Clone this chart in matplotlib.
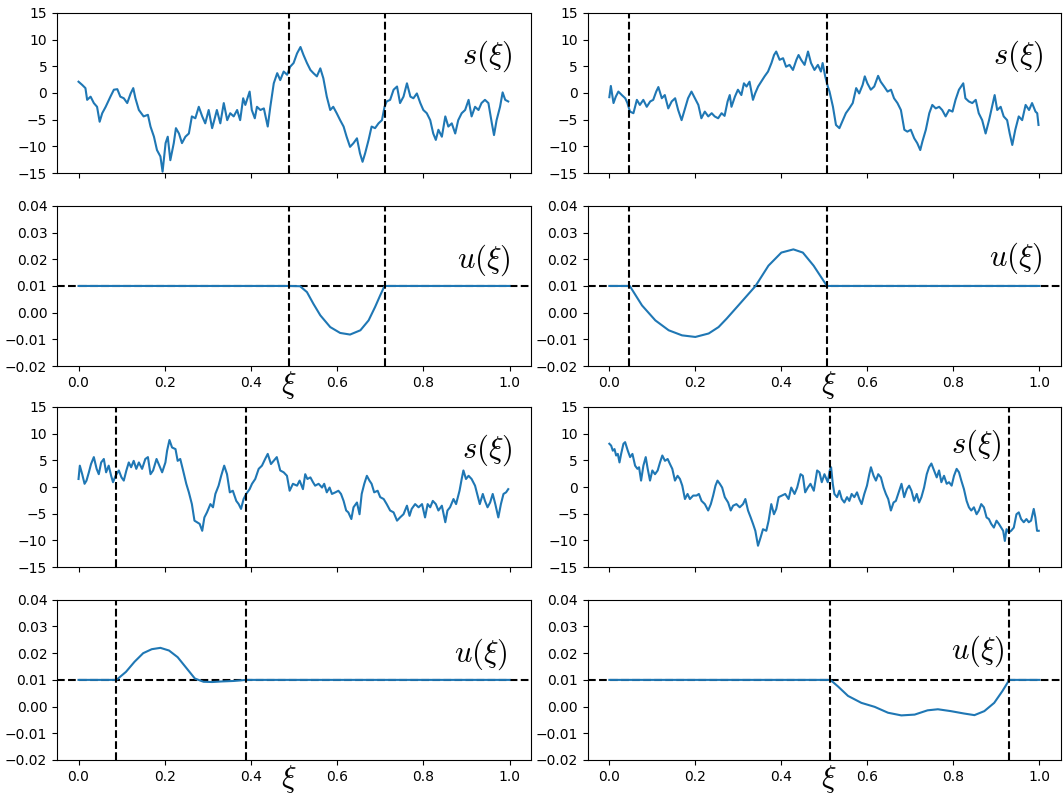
import matplotlib
matplotlib.use("Agg")
import matplotlib.pyplot as plt

plt.rcParams["mathtext.fontset"] = "cm"

# ---------------- data ----------------
# s(xi) signals: (xi, value) pairs
s_top_left = [
    (0.0, 2.1), (0.0085, 1.5), (0.016, 0.9), (0.020, -1.3), (0.028, -0.7), (0.0355, -1.9),
    (0.043, -2.6), (0.049, -5.4), (0.055, -3.8), (0.063, -2.6), (0.074, -0.7), (0.082, 0.6),
    (0.090, 0.7), (0.097, -0.7), (0.105, -1.0), (0.113, -1.9), (0.121, -0.1), (0.127, 0.9),
    (0.132, -1.0), (0.140, -3.2), (0.151, -4.4), (0.161, -4.1), (0.167, -6.3), (0.175, -8.2),
    (0.182, -10.7), (0.190, -11.9), (0.195, -14.75), (0.202, -9.4), (0.207, -8.2), (0.213, -12.6),
    (0.221, -9.4), (0.226, -6.6), (0.233, -7.6), (0.240, -9.4), (0.248, -8.2), (0.256, -7.6),
    (0.263, -4.4), (0.271, -4.75), (0.279, -2.6), (0.287, -4.4), (0.294, -5.7), (0.302, -3.2),
    (0.310, -6.6), (0.315, -5.1), (0.321, -3.2), (0.329, -5.7), (0.337, -1.9), (0.345, -5.1),
    (0.352, -3.8), (0.360, -4.4), (0.368, -3.2), (0.375, -5.1), (0.382, -1.0), (0.387, -2.25),
    (0.397, 0.25), (0.402, -3.2), (0.409, -4.75), (0.414, -2.6), (0.422, -3.2), (0.430, -2.9),
    (0.439, -6.3), (0.445, -2.6), (0.453, 1.8), (0.461, 3.7), (0.468, 2.4), (0.476, 4.0),
    (0.484, 3.4), (0.491, 4.9), (0.499, 5.6), (0.507, 7.4),
    (0.515, 8.6), (0.522, 7.1), (0.530, 5.6), (0.538, 4.3), (0.545, 3.7), (0.553, 3.1),
    (0.561, 4.6), (0.568, 2.75), (0.576, -0.7), (0.584, -3.2), (0.591, -2.6), (0.599, -3.8),
    (0.607, -5.1), (0.615, -6.3), (0.622, -8.2), (0.630, -10.1), (0.638, -9.4), (0.646, -8.5),
    (0.653, -11.3), (0.659, -12.9), (0.665, -11.3), (0.673, -8.8), (0.680, -6.3), (0.688, -6.6),
    (0.696, -5.7), (0.704, -5.1), (0.710, -2.6), (0.715, -1.6), (0.723, -1.3), (0.731, 0.6),
    (0.739, 1.2), (0.746, -1.9), (0.754, -0.7), (0.762, 1.8), (0.770, -0.7), (0.777, -1.0),
    (0.785, -0.1), (0.793, -1.9), (0.800, -3.2), (0.808, -3.8), (0.816, -5.1), (0.823, -7.6),
    (0.829, -8.8), (0.835, -6.9), (0.843, -8.2), (0.851, -4.4), (0.858, -6.3), (0.866, -5.7),
    (0.874, -7.6), (0.881, -5.1), (0.889, -3.8), (0.897, -3.2), (0.905, -1.3), (0.912, -4.4),
    (0.920, -2.6), (0.928, -3.2), (0.935, -1.9), (0.943, -1.3), (0.951, -1.9), (0.959, -5.7),
    (0.964, -7.9), (0.970, -5.1), (0.978, -2.6), (0.984, 0.1), (0.990, -1.3), (0.997, -1.6),
]

s_top_right = [
    (0.0, -0.8), (0.0035, 1.3), (0.0097, -1.9), (0.015, -0.7), (0.021, 0.25), (0.029, -0.4),
    (0.037, -1.0), (0.042, -1.9), (0.048, -3.5), (0.056, -3.8), (0.064, -1.3), (0.071, -2.25),
    (0.079, -1.3), (0.087, -2.6), (0.095, -1.6), (0.102, -1.3), (0.109, 0.25), (0.114, 1.1),
    (0.122, -1.0), (0.129, -0.4), (0.137, -2.9), (0.145, -1.6), (0.153, -1.0), (0.160, -3.2),
    (0.168, -5.1), (0.176, -2.9), (0.183, -1.0), (0.191, 0.25), (0.199, -1.0), (0.207, -2.25),
    (0.214, -4.75), (0.222, -3.5), (0.230, -4.4), (0.238, -3.8), (0.245, -4.4), (0.253, -4.75),
    (0.261, -3.8), (0.268, -4.3), (0.275, -1.6), (0.280, -0.4), (0.284, -2.6), (0.292, -0.7),
    (0.299, 0.6), (0.307, -0.4), (0.313, 1.8), (0.319, 1.2), (0.326, 2.1), (0.334, -1.3),
    (0.339, -0.1), (0.346, 1.2), (0.353, 2.1), (0.361, 3.1), (0.369, 4.0), (0.377, 5.6),
    (0.383, 7.1), (0.388, 7.75), (0.396, 6.2), (0.404, 6.5), (0.411, 4.9), (0.419, 5.25),
    (0.427, 4.3), (0.435, 6.2), (0.440, 7.1), (0.446, 6.2), (0.454, 5.25), (0.462, 7.75),
    (0.469, 5.6), (0.477, 4.3), (0.485, 5.25), (0.492, 4.0), (0.496, 5.6), (0.502, 3.1),
    (0.508, 1.2),
    (0.512, 0.25), (0.520, -2.6), (0.527, -6.0), (0.535, -6.6), (0.543, -5.1), (0.550, -3.8),
    (0.558, -2.9), (0.566, -1.9), (0.574, 0.9), (0.581, -0.1), (0.589, 1.5), (0.594, 3.1),
    (0.600, 1.8), (0.608, 0.6), (0.616, 1.2), (0.625, 3.2), (0.631, 2.1), (0.639, 1.2),
    (0.647, 0.25), (0.655, 0.6), (0.662, -1.0), (0.670, -1.9), (0.678, -3.2), (0.686, -6.9),
    (0.693, -7.25), (0.701, -6.9), (0.709, -8.5), (0.716, -9.4), (0.723, -10.7), (0.728, -9.1),
    (0.736, -6.9), (0.744, -3.8), (0.751, -2.25), (0.759, -2.9), (0.767, -2.6), (0.774, -3.2),
    (0.782, -4.4), (0.790, -3.2), (0.798, -3.5), (0.805, -1.3), (0.813, 0.6), (0.823, 1.8),
    (0.828, -1.0), (0.836, -1.6), (0.844, -1.9), (0.852, -1.3), (0.859, -3.8), (0.867, -5.1),
    (0.875, -7.6), (0.883, -5.1), (0.890, -2.6), (0.896, -0.4), (0.902, -3.2), (0.910, -2.6),
    (0.917, -4.4), (0.925, -5.1), (0.931, -7.6), (0.937, -9.75), (0.944, -6.9), (0.952, -4.4),
    (0.960, -5.1), (0.968, -2.25), (0.976, -3.2), (0.983, -1.9), (0.991, -3.5), (0.995, -3.8),
    (0.998, -6.0),
]

s_bottom_left = [
    (0.0, 1.5), (0.003, 4.0), (0.0085, 2.4), (0.014, 0.6), (0.0185, 1.2), (0.024, 2.75),
    (0.029, 4.3), (0.0355, 5.6), (0.042, 3.4), (0.047, 2.4), (0.0525, 4.6), (0.0587, 5.25),
    (0.064, 2.75), (0.070, 4.0), (0.0757, 2.1), (0.080, 0.9), (0.086, 2.1), (0.0935, 3.1),
    (0.0997, 1.8), (0.105, 1.2), (0.111, 3.1), (0.1166, 4.6), (0.122, 3.7), (0.128, 4.9),
    (0.134, 3.4), (0.140, 4.6), (0.1475, 3.4), (0.155, 5.25), (0.161, 5.6), (0.167, 2.4),
    (0.173, 3.1), (0.181, 5.25), (0.186, 4.3), (0.194, 2.75), (0.2016, 4.6), (0.2055, 6.8),
    (0.211, 8.8), (0.217, 7.4), (0.225, 7.1), (0.230, 4.9), (0.236, 5.25), (0.2426, 3.1),
    (0.250, 0.6), (0.256, -1.0), (0.263, -3.2), (0.269, -6.3), (0.275, -6.6), (0.281, -6.9),
    (0.287, -8.2), (0.292, -5.7), (0.298, -4.75), (0.306, -3.2), (0.312, -3.8), (0.3175, -1.3),
    (0.325, 0.25), (0.331, 2.1), (0.338, 4.0), (0.3445, 2.4), (0.351, -1.0), (0.358, -0.7),
    (0.366, -2.6), (0.3716, -3.2), (0.377, -4.1), (0.383, -2.25), (0.389, -1.3), (0.397, -0.4),
    (0.4025, 0.6), (0.410, 1.5), (0.418, 3.4), (0.4256, 4.0), (0.433, 5.25), (0.439, 6.2),
    (0.4465, 4.3), (0.4527, 4.9), (0.460, 5.6), (0.468, 3.1), (0.476, 2.75), (0.4836, 2.1),
    (0.4898, -0.7), (0.4975, 0.6), (0.507, 0.25), (0.513, 1.2),
    (0.5145, 0.9), (0.5207, -0.4), (0.526, 2.4), (0.531, 1.5), (0.538, 1.8), (0.544, 0.9),
    (0.549, 0.25), (0.557, 0.6), (0.565, -0.1), (0.570, 0.6), (0.576, -1.0), (0.5825, -0.1),
    (0.588, -1.3), (0.596, -1.0), (0.603, -0.7), (0.609, -1.3), (0.615, -2.6), (0.621, -4.4),
    (0.626, -4.75), (0.633, -6.0), (0.638, -3.8), (0.646, -2.9), (0.652, -5.1), (0.657, -1.3),
    (0.663, 0.6), (0.669, 2.1), (0.675, 1.2), (0.680, 0.6), (0.686, -1.0), (0.694, -0.7),
    (0.700, -1.9), (0.708, -2.25), (0.715, -3.2), (0.723, -4.4), (0.731, -4.75), (0.739, -6.3),
    (0.746, -5.7), (0.754, -5.1), (0.762, -3.5), (0.768, -5.4), (0.773, -4.1), (0.781, -3.2),
    (0.789, -3.8), (0.797, -3.2), (0.804, -5.7), (0.810, -3.2), (0.816, -3.8), (0.822, -2.6),
    (0.829, -3.2), (0.835, -4.4), (0.843, -3.5), (0.851, -6.6), (0.856, -4.4), (0.862, -3.8),
    (0.870, -2.25), (0.876, -3.2), (0.884, -0.7), (0.889, 1.5), (0.893, 3.1), (0.899, 1.5),
    (0.905, 2.1), (0.912, 1.5), (0.920, 0.25), (0.925, -1.3), (0.931, -3.2), (0.938, -1.3),
    (0.943, -2.6), (0.949, -3.8), (0.955, -2.9), (0.961, -1.3), (0.967, -3.2), (0.974, -5.7),
    (0.980, -3.2), (0.986, -1.3), (0.992, -1.0), (0.997, -0.4),
]

s_bottom_right = [
    (0.0, 8.1), (0.0042, 7.75), (0.0081, 6.8), (0.012, 7.1), (0.0158, 5.9), (0.0197, 6.2),
    (0.0236, 4.6), (0.0274, 6.2), (0.0328, 8.1), (0.0367, 8.4), (0.0429, 6.8), (0.0483, 5.6),
    (0.0537, 6.2), (0.0599, 4.0), (0.0653, 3.4), (0.0691, 3.7), (0.0738, 1.2), (0.0792, 4.0),
    (0.0846, 5.6), (0.0892, 3.4), (0.0946, 1.2), (0.100, 3.1), (0.1062, 2.4), (0.1124, 3.1),
    (0.1178, 4.6), (0.1232, 5.9), (0.1294, 4.9), (0.1356, 5.25), (0.141, 4.3), (0.1464, 3.4),
    (0.1526, 1.2), (0.1587, 2.1), (0.1642, 1.5), (0.1696, 0.25), (0.1758, -2.25), (0.1819, -1.3),
    (0.1873, -2.25), (0.195, -1.6), (0.2028, -1.6), (0.2082, -1.3), (0.2144, -2.6), (0.2221, -3.2),
    (0.2298, -4.4), (0.236, -3.2), (0.2414, -1.6), (0.2468, 0.25), (0.2515, 1.2), (0.2569, 0.6),
    (0.2623, -0.1), (0.2685, -1.9), (0.2762, -2.9), (0.2823, -4.4), (0.2878, -3.5), (0.2955, -3.2),
    (0.3032, -3.8), (0.3109, -3.2), (0.3163, -2.25), (0.3225, -4.4), (0.3287, -5.7), (0.3341, -6.9),
    (0.3395, -8.2), (0.3457, -11.0), (0.3519, -9.4), (0.3573, -7.9), (0.365, -8.2), (0.3704, -6.3),
    (0.3766, -3.2), (0.3828, -5.1), (0.3882, -4.1), (0.3936, -1.9), (0.4013, -1.6), (0.409, -1.3),
    (0.4168, -2.25), (0.423, -0.1), (0.4307, -1.3), (0.4368, -0.1), (0.4446, 2.4), (0.450, 2.1),
    (0.4554, -1.0), (0.4616, -0.1), (0.4677, 0.6), (0.4755, -0.7), (0.4832, 3.1), (0.4886, 2.75),
    (0.494, 0.9), (0.5002, 2.4), (0.5079, 0.9), (0.5126, 3.1),
    (0.5157, 3.7), (0.5196, 0.6), (0.5234, -1.3), (0.5296, -1.9), (0.535, -0.7), (0.5405, -2.25),
    (0.5465, -2.9), (0.5527, -1.9), (0.5581, -2.6), (0.5635, -1.3), (0.5697, -1.9), (0.5759, -1.0),
    (0.5813, -2.25), (0.5867, -3.2), (0.5929, -1.3), (0.5991, 0.25), (0.6045, 2.4), (0.6083, 3.7),
    (0.6145, 2.1), (0.6199, 1.2), (0.6253, 2.4), (0.6315, 1.8), (0.6377, -0.1), (0.6431, -1.3),
    (0.6485, -2.25), (0.6547, -4.4), (0.6609, -2.9), (0.6663, -2.6), (0.674, -0.7), (0.6794, 0.6),
    (0.6856, -1.9), (0.6918, -0.4), (0.6972, 0.25), (0.7026, -0.7), (0.7087, -2.6), (0.7149, -1.3),
    (0.7203, -2.9), (0.7257, -1.9), (0.7319, -0.1), (0.7381, 2.4), (0.7435, 3.7), (0.7489, 4.4),
    (0.7551, 3.1), (0.7613, 1.8), (0.7667, 3.1), (0.7721, 0.9), (0.7783, 2.1), (0.7845, 0.6),
    (0.7899, 0.9), (0.796, 0.25), (0.8015, 2.1), (0.8076, 3.4), (0.8131, 2.75), (0.8185, 1.2),
    (0.8246, -0.4), (0.8308, -2.6), (0.8362, -3.8), (0.8416, -4.4), (0.8478, -3.8), (0.854, -5.1),
    (0.8594, -4.4), (0.8648, -3.2), (0.871, -3.8), (0.8772, -5.7), (0.8826, -6.0), (0.888, -6.9),
    (0.8942, -7.6), (0.9004, -6.3), (0.9058, -6.9), (0.9112, -7.6), (0.9158, -8.2), (0.9197, -10.1),
    (0.9236, -7.9), (0.9289, -8.5), (0.9343, -8.2), (0.9405, -7.6), (0.9467, -5.1), (0.9521, -4.75),
    (0.9575, -6.0), (0.9637, -6.6), (0.9699, -6.0), (0.9753, -6.6), (0.9807, -6.3), (0.9869, -4.1),
    (0.9907, -5.7), (0.9946, -8.2), (0.9985, -8.2),
]

# u(xi) controls: (xi, value) pairs
u_top_left = [
    (0.0, 0.01), (0.490, 0.01), (0.514, 0.0099), (0.530, 0.0077), (0.545, 0.0033),
    (0.561, -0.0010), (0.584, -0.0054), (0.607, -0.0076), (0.630, -0.0082), (0.654, -0.0066),
    (0.673, -0.0029), (0.688, 0.0021), (0.700, 0.0065), (0.710, 0.01), (1.0, 0.01),
]
u_top_right = [
    (0.0, 0.01), (0.0475, 0.01), (0.076, 0.0027), (0.107, -0.0029), (0.138, -0.0066),
    (0.169, -0.0085), (0.200, -0.0091), (0.231, -0.0078), (0.254, -0.0054), (0.273, -0.0022),
    (0.300, 0.0027), (0.340, 0.01), (0.370, 0.0176), (0.400, 0.0225), (0.428, 0.0237),
    (0.450, 0.0225), (0.475, 0.0176), (0.506, 0.01), (1.0, 0.01),
]
u_bottom_left = [
    (0.0, 0.01), (0.088, 0.01), (0.11, 0.0130), (0.13, 0.0168), (0.15, 0.0200), (0.17, 0.0215),
    (0.19, 0.0220), (0.21, 0.0210), (0.23, 0.0185), (0.25, 0.0145), (0.27, 0.0105),
    (0.29, 0.0093), (0.31, 0.0092), (0.33, 0.0094), (0.36, 0.0096), (0.389, 0.01), (1.0, 0.01),
]
u_bottom_right = [
    (0.0, 0.01), (0.514, 0.01), (0.532, 0.0075), (0.555, 0.0040), (0.586, 0.0014),
    (0.617, -0.0001), (0.648, -0.0023), (0.679, -0.0033), (0.710, -0.0030), (0.740, -0.0014),
    (0.764, -0.0010), (0.794, -0.0017), (0.825, -0.0026), (0.849, -0.0032), (0.872, -0.0017),
    (0.895, 0.0014), (0.914, 0.0058), (0.930, 0.01), (1.0, 0.01),
]

# interval boundaries (vertical dashed lines)
bounds_top_left = [0.489, 0.710]
bounds_top_right = [0.046, 0.506]
bounds_bottom_left = [0.088, 0.389]
bounds_bottom_right = [0.513, 0.930]

u_ref = 0.01
s_ticks = [-15, -10, -5, 0, 5, 10, 15]
u_ticks = [-0.02, -0.01, 0.00, 0.01, 0.02, 0.03, 0.04]
x_ticks = [0.0, 0.2, 0.4, 0.6, 0.8, 1.0]

# ---------------- figure ----------------
BLUE = "#1f77b4"
fig = plt.figure(figsize=(10.63, 8.01), dpi=100)

col_left = [0.0536, 0.553]
col_width = [0.446, 0.445]
s_bottoms = [0.784, 0.292]
u_bottoms = [0.543, 0.0512]
ax_h = 0.2
xi_label_x = [0.489, 0.51]

panels = [
    (0, 0, s_top_left, u_top_left, bounds_top_left, (0.907, 0.73), (0.90, 0.66)),
    (0, 1, s_top_right, u_top_right, bounds_top_right, (0.909, 0.73), (0.905, 0.67)),
    (1, 0, s_bottom_left, u_bottom_left, bounds_bottom_left, (0.907, 0.73), (0.893, 0.66)),
    (1, 1, s_bottom_right, u_bottom_right, bounds_bottom_right, (0.82, 0.76), (0.825, 0.68)),
]

for row, col, s_data, u_data, bounds, s_lab, u_lab in panels:
    L = col_left[col]
    W = col_width[col]
    ax_s = fig.add_axes([L, s_bottoms[row], W, ax_h])
    ax_u = fig.add_axes([L, u_bottoms[row], W, ax_h])

    sx = [p[0] for p in s_data]
    sy = [p[1] for p in s_data]
    ax_s.plot(sx, sy, color=BLUE, lw=1.5)
    for b in bounds:
        ax_s.axvline(b, color="k", ls="--", lw=1.5)
    ax_s.set_ylim(-15, 15)
    ax_s.set_yticks(s_ticks)
    ax_s.set_xlim(-0.05, 1.05)
    ax_s.set_xticks(x_ticks)
    ax_s.set_xticklabels([])
    ax_s.text(s_lab[0], s_lab[1], r"$s(\xi)$", transform=ax_s.transAxes,
              fontsize=22, ha="center", va="center")

    ux = [p[0] for p in u_data]
    uy = [p[1] for p in u_data]
    ax_u.axhline(u_ref, color="k", ls="--", lw=1.5)
    ax_u.plot(ux, uy, color=BLUE, lw=1.5)
    for b in bounds:
        ax_u.axvline(b, color="k", ls="--", lw=1.5)
    ax_u.set_ylim(-0.02, 0.04)
    ax_u.set_yticks(u_ticks)
    ax_u.set_yticklabels([f"{t:.2f}".replace("-", "\u2212") for t in u_ticks])
    ax_u.set_xlim(-0.05, 1.05)
    ax_u.set_xticks(x_ticks)
    ax_u.set_xticklabels([f"{t:.1f}" for t in x_ticks])
    ax_u.text(xi_label_x[col], -0.12, r"$\xi$", transform=ax_u.transAxes,
              fontsize=22, ha="center", va="center")
    ax_u.text(u_lab[0], u_lab[1], r"$u(\xi)$", transform=ax_u.transAxes,
              fontsize=22, ha="center", va="center")

    for ax in (ax_s, ax_u):
        ax.tick_params(labelsize=10)

fig.savefig("out.png", dpi=100)
